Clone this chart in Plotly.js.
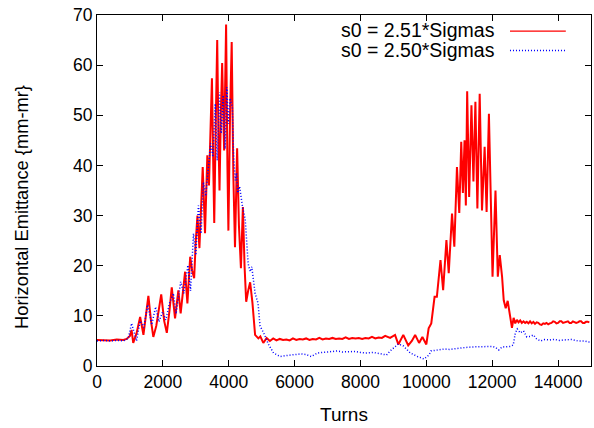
<!DOCTYPE html>
<html>
<head>
<meta charset="utf-8">
<script src="https://cdn.plot.ly/plotly-3.0.1.min.js"></script>
<style>html,body{margin:0;padding:0;background:#fff;}#chart{width:594px;height:428px;}</style>
</head>
<body>
<div id="chart"></div>
<script>
// Series: s0 = 2.51*Sigmas (red, solid)
const redTurns = [0,200,400,600,800,900,1000,1050,1100,1200,1310,1410,1480,1560,1640,1710,1800,1950,2040,2120,2200,2270,2370,2470,2540,2600,2675,2745,2830,2890,2950,3000,3050,3110,3160,3210,3280,3350,3400,3440,3490,3530,3560,3610,3650,3690,3720,3760,3800,3860,3920,3960,3990,4040,4090,4140,4190,4255,4310,4370,4430,4480,4530,4590,4650,4720,4800,4900,4960,5050,5150,5250,5350,5450,5550,5650,5750,5850,5950,6050,6150,6250,6350,6450,6550,6650,6750,6850,6950,7050,7150,7250,7350,7450,7550,7650,7750,7850,7950,8050,8150,8250,8350,8450,8550,8650,8750,8900,9050,9150,9300,9450,9560,9660,9780,9880,10000,10070,10150,10250,10320,10430,10510,10610,10680,10780,10850,10930,11000,11060,11110,11160,11200,11240,11300,11370,11430,11490,11550,11620,11690,11770,11830,11900,12010,12100,12170,12230,12300,12350,12410,12470,12550,12600,12650,12700,12750,12800,12850,12900,12950,13000,13050,13100,13150,13200,13250,13300,13350,13400,13450,13500,13550,13600,13650,13700,13750,13800,13850,13900,13950,14000,14050,14100,14150,14200,14250,14300,14350,14400,14450,14500,14550,14600,14650,14700,14750,14800,14850,14900,14950,15000];
const redEmit = [5.2,5.2,5.1,5.3,5.2,5.4,6.0,7.2,4.6,6.5,9.8,6.2,10,14.0,9,5.8,8,14.3,9,6.6,11,15.7,9.5,15.1,10.5,14,18.8,12.5,21.8,19,17.5,25,30,23.5,33,39.7,26.5,42,36,47,57.4,40,28.5,50,65,45,35,50,60.4,43,68.1,40,27,50,64.6,38,23.7,43.4,28,19.5,31.7,20,12.8,15,16.7,12.6,6.2,5.5,5.9,4.6,5.6,5.0,5.5,5.1,5.4,5.2,5.3,5.1,5.5,5.2,5.4,5.3,5.5,5.2,5.4,5.3,5.6,5.3,5.5,5.4,5.6,5.4,5.5,5.4,5.7,5.4,5.6,5.5,5.6,5.4,5.6,5.5,5.8,5.5,5.7,5.6,6.0,5.6,6.2,4.3,6.2,4.1,5.0,6.2,4.6,5.8,4.3,7.5,8.5,13.8,13.8,21.1,15.1,25.1,18.5,30.4,23.8,39.7,30.5,44.7,34.5,45,32,54.8,33.7,52,36.8,52.7,31.4,54.3,31,43.7,30.7,50.3,17.8,35,17.8,22.1,17.8,13.1,11.5,13,9.6,7.6,9.6,8.5,9.2,8.7,9.1,8.6,8.9,8.6,8.8,8.5,8.9,8.5,8.8,8.4,8.7,8.6,8.3,8.2,8.5,8.4,8.6,8.3,8.5,8.6,8.9,8.8,8.5,8.6,8.9,8.9,8.6,8.7,8.9,8.9,8.6,8.6,8.9,8.8,8.6,8.7,8.9,8.9,8.6,8.6,8.8,8.8,8.7];

// Series: s0 = 2.50*Sigmas (blue, dotted)
const blueTurns = [0,200,400,600,800,950,1050,1200,1310,1420,1540,1660,1780,1880,1990,2090,2200,2320,2400,2540,2640,2760,2840,2930,3000,3080,3160,3230,3300,3370,3450,3520,3590,3650,3720,3770,3830,3890,3940,3990,4040,4110,4150,4200,4240,4270,4330,4420,4500,4590,4650,4700,4800,4890,4950,5090,5200,5360,5560,5760,5980,6190,6350,6500,6700,6900,7120,7300,7450,7640,7850,8000,8160,8400,8580,8790,8900,9000,9150,9300,9510,9730,9930,10080,10140,10350,10560,10700,10980,11200,11390,11600,11810,12000,12100,12200,12300,12550,12640,12700,12760,12850,12950,13050,13160,13250,13350,13470,13600,13750,13890,14050,14200,14410,14600,14800,14920,15000];
const blueEmit = [5.0,5.1,5.0,5.1,5.0,5.5,8.5,5.0,9,7.7,12.2,8.2,11.8,8.8,10.8,9.2,12.5,14.5,10.4,16.8,14.5,20.1,15,26.4,22.1,32,26.4,36.7,33.9,39.4,44.4,41.7,52.3,41,54.6,46.4,54,43.3,55.6,48.3,53.4,51.6,41.6,37,38.5,34.5,35.8,31.7,29.3,20.4,18.8,19.8,14.5,12.5,8,6.2,4.4,2.6,1.9,2.1,2.2,2.4,2.3,1.9,2.6,2.7,2.8,3.0,2.8,2.8,2.9,2.7,2.6,2.7,2.4,2.2,3.0,3.6,4.4,4.0,2.6,1.9,1.4,2.2,3.0,3.2,3.4,3.3,3.6,3.7,3.8,3.8,3.9,3.9,3.7,3.2,3.8,3.9,4.2,6.5,7.4,6.6,7.0,5.8,5.9,6.2,5.4,5.0,5.3,5.2,5.3,5.1,5.2,5.3,5.0,5.0,4.8,4.8];

const seriesNames = ['s0 = 2.51*Sigmas', 's0 = 2.50*Sigmas'];
const xTicks = [0,2000,4000,6000,8000,10000,12000,14000];
const yTicks = [0,10,20,30,40,50,60,70];

const FONT = 'Liberation Sans, Arial, sans-serif';
const traces = [
  {x: redTurns, y: redEmit, type: 'scatter', mode: 'lines', name: seriesNames[0],
   line: {color: '#ff0000', width: 2}},
  {x: blueTurns, y: blueEmit, type: 'scatter', mode: 'lines', name: seriesNames[1],
   line: {color: '#0000ff', width: 1.5, dash: '1px,2px'}}
];

const layout = {
  width: 594, height: 428,
  margin: {l: 97, r: 3, t: 15, b: 62},
  paper_bgcolor: '#fff', plot_bgcolor: '#fff',
  showlegend: false,
  font: {family: FONT, size: 17.5, color: '#000'},
  xaxis: {
    range: [0, 15000], tickvals: xTicks, ticktext: xTicks.map(String),
    ticks: 'inside', ticklen: 6, tickcolor: '#000', tickwidth: 1,
    showline: true, linecolor: '#000', linewidth: 1, mirror: 'ticks',
    showgrid: false, zeroline: false,
    title: {text: 'Turns', font: {size: 19}, standoff: 16}
  },
  yaxis: {
    range: [0, 70], tickvals: yTicks, ticktext: yTicks.map(String),
    ticks: 'inside', ticklen: 6, tickcolor: '#000', tickwidth: 1,
    showline: true, linecolor: '#000', linewidth: 1, mirror: 'ticks',
    showgrid: false, zeroline: false
  },
  annotations: [
    {xref: 'paper', yref: 'paper', x: -0.152, y: 0.453, xanchor: 'center', yanchor: 'middle',
     textangle: -90, text: 'Horizontal Emittance {mm-mr}', showarrow: false, font: {size: 18.3}},
    {xref: 'paper', yref: 'paper', x: 0.81, y: 0.957, xanchor: 'right', yanchor: 'middle',
     text: seriesNames[0], showarrow: false, font: {size: 19.5}},
    {xref: 'paper', yref: 'paper', x: 0.81, y: 0.899, xanchor: 'right', yanchor: 'middle',
     text: seriesNames[1], showarrow: false, font: {size: 19.5}}
  ],
  shapes: [
    {type: 'line', xref: 'paper', yref: 'paper', x0: 0.836, x1: 0.949, y0: 0.954, y1: 0.954,
     line: {color: '#ff0000', width: 1.2}},
    {type: 'line', xref: 'paper', yref: 'paper', x0: 0.836, x1: 0.949, y0: 0.899, y1: 0.899,
     line: {color: '#0000ff', width: 1.5, dash: '1px,2px'}}
  ]
};

Plotly.newPlot('chart', traces, layout, {staticPlot: true, displayModeBar: false});
</script>
</body>
</html>
